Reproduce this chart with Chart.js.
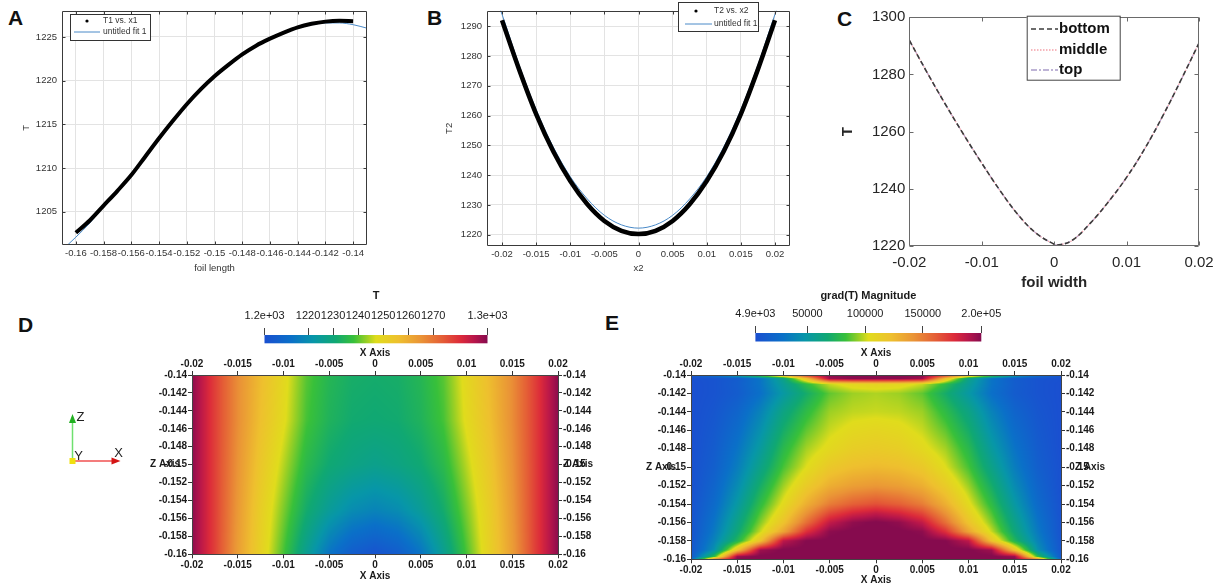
<!DOCTYPE html>
<html><head><meta charset="utf-8">
<script src="https://cdn.jsdelivr.net/npm/chart.js@4.4.1/dist/chart.umd.min.js"></script>
<style>
html,body{margin:0;padding:0;background:#fff;}
body{width:1225px;height:586px;position:relative;overflow:hidden;font-family:"Liberation Sans",Arial,sans-serif;}
.box{position:absolute;}
.letter{position:absolute;font:bold 21px/21px "Liberation Sans",Arial,sans-serif;color:#111;height:21px;}
</style></head><body>
<div class="letter" style="left:8px;top:7px">A</div>
<div class="letter" style="left:427px;top:7px">B</div>
<div class="letter" style="left:837px;top:8px">C</div>
<div class="letter" style="left:18px;top:314px">D</div>
<div class="letter" style="left:605px;top:312px">E</div>

<div class="box" style="left:0;top:0;width:372px;height:278px"><canvas id="cA"></canvas></div>
<div class="box" style="left:440px;top:0;width:355px;height:278px"><canvas id="cB"></canvas></div>
<div class="box" style="left:830px;top:0;width:395px;height:296px"><canvas id="cC"></canvas></div>
<div class="box" style="left:0;top:285px;width:600px;height:301px"><canvas id="cD"></canvas></div>
<div class="box" style="left:600px;top:285px;width:625px;height:301px"><canvas id="cE"></canvas></div>
<div class="box" style="left:200px;top:285px;width:350px;height:60px"><canvas id="cDbar"></canvas></div>
<div class="box" style="left:690px;top:285px;width:360px;height:60px"><canvas id="cEbar"></canvas></div>

<script>
// ---------------- Panel A : T1 vs x1 (foil length) ----------------
const a_x1 = [-0.16,-0.159,-0.158,-0.157,-0.156,-0.155,-0.154,-0.153,-0.152,-0.151,-0.15,-0.149,-0.148,-0.147,-0.146,-0.145,-0.144,-0.143,-0.142,-0.141,-0.14];
const a_T1 = [1202.6,1204.0,1205.7,1207.4,1209.2,1211.3,1213.4,1215.4,1217.3,1219.0,1220.5,1221.8,1223.0,1224.0,1224.8,1225.5,1226.1,1226.5,1226.75,1226.85,1226.8];
const a_fitX = [-0.1608,-0.16,-0.159,-0.158,-0.157,-0.156,-0.155,-0.154,-0.153,-0.152,-0.151,-0.15,-0.149,-0.148,-0.147,-0.146,-0.145,-0.144,-0.143,-0.142,-0.141,-0.14,-0.139];
const a_fitT = [1200.9,1202.1,1203.7,1205.6,1207.4,1209.3,1211.4,1213.5,1215.5,1217.4,1219.1,1220.6,1221.9,1223.0,1224.0,1224.8,1225.5,1226.0,1226.4,1226.6,1226.6,1226.4,1226.0];
const a_xTicks = [-0.16,-0.158,-0.156,-0.154,-0.152,-0.15,-0.148,-0.146,-0.144,-0.142,-0.14];
const a_yTicks = [1205,1210,1215,1220,1225];

// ---------------- Panel B : T2 vs x2 ----------------
const b_x2 = [-0.02,-0.0175,-0.015,-0.0125,-0.01,-0.0075,-0.005,-0.0025,0,0.0025,0.005,0.0075,0.01,0.0125,0.015,0.0175,0.02];
const b_T2 = [1292,1275.5,1260.5,1248,1238,1230.2,1224.6,1221.3,1220.2,1221.3,1224.6,1230.2,1238,1248,1260.5,1275.5,1292];
const b_fitX = [-0.0222,-0.02,-0.0175,-0.015,-0.0125,-0.01,-0.0075,-0.005,-0.0025,0,0.0025,0.005,0.0075,0.01,0.0125,0.015,0.0175,0.02,0.0222];
const b_fitT = [1307.5,1294,1277,1262,1249.5,1239.5,1232,1226.5,1223.3,1222.2,1223.3,1226.5,1232,1239.5,1249.5,1262,1277,1294,1307.5];
const b_xTicks = [-0.02,-0.015,-0.01,-0.005,0,0.005,0.01,0.015,0.02];
const b_yTicks = [1220,1230,1240,1250,1260,1270,1280,1290];

// ---------------- Panel C : T vs foil width ----------------
const c_x = [-0.02,-0.0175,-0.015,-0.0125,-0.01,-0.0075,-0.005,-0.0025,0,0.0005,0.0025,0.005,0.0075,0.01,0.0125,0.015,0.0175,0.02];
const c_bottom = [1292,1280.5,1269.5,1259,1249,1239.5,1231,1224.5,1220.6,1220.3,1222,1228,1235.5,1244,1254,1265.5,1278,1291];
const c_middle = [1292,1280.5,1269.5,1259,1249,1239.5,1231,1224.5,1220.6,1220.3,1222,1228,1235.5,1244,1254,1265.5,1278,1291];
const c_top    = [1292,1280.5,1269.5,1259,1249,1239.5,1231,1224.5,1220.6,1220.3,1222,1228,1235.5,1244,1254,1265.5,1278,1291];
const c_xTicks = [-0.02,-0.01,0,0.01,0.02];
const c_yTicks = [1220,1240,1260,1280,1300];

// ---------------- Panels D/E : field maps ----------------
const field_x = [-0.02,-0.0175,-0.015,-0.0125,-0.01,-0.0075,-0.005,-0.0025,0,0.0025,0.005,0.0075,0.01,0.0125,0.015,0.0175,0.02];
const fieldXTicks = [-0.02,-0.015,-0.01,-0.005,0,0.005,0.01,0.015,0.02];
const fieldZTicks = [-0.16,-0.158,-0.156,-0.154,-0.152,-0.15,-0.148,-0.146,-0.144,-0.142,-0.14];

// D : temperature T
const d_z = [-0.14,-0.145,-0.15,-0.155,-0.16];
const d_T = [
  [1291,1278,1266,1257,1249,1240,1235,1232.5,1232,1232.5,1235,1240,1249,1257,1266,1278,1291],
  [1291,1278,1266,1256,1248,1239,1234,1231.5,1231,1231.5,1234,1239,1248,1256,1266,1278,1291],
  [1291,1278,1265,1254,1245,1236,1231,1228.5,1227,1228.5,1231,1236,1245,1254,1265,1278,1291],
  [1291,1278,1264,1252,1242,1232,1225,1220,1218,1220,1225,1232,1242,1252,1264,1278,1291],
  [1291,1278,1263,1251,1239,1226,1214,1207,1204,1207,1214,1226,1239,1251,1263,1278,1291]
];
const d_cbTicks = [1202.6,1220,1230,1240,1250,1260,1270,1291.7];
const d_cbLabels = ['1.2e+03','1220','1230','1240','1250','1260','1270','1.3e+03'];

// E : grad(T) magnitude
const e_z = [-0.14,-0.1404,-0.141,-0.142,-0.144,-0.146,-0.148,-0.15,-0.152,-0.154,-0.155,-0.156,-0.157,-0.158,-0.159,-0.1597,-0.16];
const e_grad = [
  [12000,30000,60000,100000,140000,180000,200000,200000,200000,200000,200000,180000,140000,100000,60000,30000,12000],
  [6000,8000,14000,30000,60000,120000,195000,200000,200000,200000,195000,120000,60000,30000,14000,8000,6000],
  [5000,8000,15000,30000,55000,80000,100000,108000,110000,108000,100000,80000,55000,30000,15000,8000,5000],
  [5000,8000,14000,28000,50000,70000,88000,95000,97000,95000,88000,70000,50000,28000,14000,8000,5000],
  [5000,10000,20000,38000,62000,80000,95000,99000,100000,99000,95000,80000,62000,38000,20000,10000,5000],
  [5000,12000,25000,45000,70000,88000,100000,106000,108000,106000,100000,88000,70000,45000,25000,12000,5000],
  [5000,14000,30000,52000,78000,96000,106000,113000,115000,113000,106000,96000,78000,52000,30000,14000,5000],
  [6000,16000,35000,60000,85000,103000,117000,123000,125000,123000,117000,103000,85000,60000,35000,16000,6000],
  [6000,20000,42000,70000,95000,115000,130000,137000,140000,137000,130000,115000,95000,70000,42000,20000,6000],
  [7000,24000,50000,80000,105000,130000,150000,160000,165000,160000,150000,130000,105000,80000,50000,24000,7000],
  [7000,27000,55000,86000,112000,142000,168000,180000,186000,180000,168000,142000,112000,86000,55000,27000,7000],
  [8000,30000,60000,92000,120000,155000,186000,198000,202000,198000,186000,155000,120000,92000,60000,30000,8000],
  [8000,33000,65000,100000,135000,176000,199000,202000,202000,202000,199000,176000,135000,100000,65000,33000,8000],
  [9000,38000,75000,120000,188000,201000,202000,202000,202000,202000,202000,201000,188000,120000,75000,38000,9000],
  [10000,45000,120000,195000,202000,202000,202000,202000,202000,202000,202000,202000,202000,195000,120000,45000,10000],
  [12000,80000,196000,202000,202000,202000,202000,202000,202000,202000,202000,202000,202000,202000,196000,80000,12000],
  [20000,150000,202000,202000,202000,202000,202000,202000,202000,202000,202000,202000,202000,202000,202000,150000,20000]
];
const e_cbTicks = [4900,50000,100000,150000,200700];
const e_cbLabels = ['4.9e+03','50000','100000','150000','2.0e+05'];

// colour map (rainbow-uniform like)
const cmapPos = [0,0.12,0.22,0.32,0.40,0.46,0.50,0.60,0.70,0.80,0.88,0.94,1.0];
const cmapHex = ['#1a4fd0','#0a70c8','#0796a8','#10a872','#38c03a','#9cd024','#e0dc1c','#eec02e','#ea9436','#e45c36','#dc2a3a','#b8164a','#860b4e'];

// ===================================================================
const FONT = '"Liberation Sans", Arial, sans-serif';
Chart.defaults.font.family = FONT;
Chart.defaults.animation = false;

const cmapRGB = cmapHex.map(h => [parseInt(h.substr(1,2),16), parseInt(h.substr(3,2),16), parseInt(h.substr(5,2),16)]);
function cmap(t){
  if (t <= 0) return cmapRGB[0];
  if (t >= 1) return cmapRGB[cmapRGB.length-1];
  for (let i=0;i<cmapPos.length-1;i++){
    if (t <= cmapPos[i+1]){
      const f = (t-cmapPos[i])/(cmapPos[i+1]-cmapPos[i]);
      const a=cmapRGB[i], b=cmapRGB[i+1];
      return [a[0]+(b[0]-a[0])*f, a[1]+(b[1]-a[1])*f, a[2]+(b[2]-a[2])*f];
    }
  }
  return cmapRGB[cmapRGB.length-1];
}
function seg(arr, v){
  const n = arr.length, asc = arr[n-1] > arr[0];
  for (let i=0;i<n-1;i++){
    const a=arr[i], b=arr[i+1];
    if (asc ? v <= b : v >= b){ const f=(v-a)/(b-a); return [i, Math.max(0,Math.min(1,f))]; }
  }
  return [n-2, 1];
}
const pts = (xs, ys) => xs.map((x,i) => ({x:x, y:ys[i]}));

function axis(o){
  const horiz = (o.pos==='top'||o.pos==='bottom');
  return {
    type:'linear', position:o.pos, min:o.min, max:o.max, display:true,
    afterBuildTicks: s => { s.ticks = o.ticks.map(v => ({value:v})); },
    afterFit: s => { if (horiz) s.height = o.size; else s.width = o.size; },
    ticks:{autoSkip:false, maxRotation:0, minRotation:0, color:o.tickColor||'#333', font:o.tickFont||{size:9.5}, padding:o.tickPad==null?3:o.tickPad,
      callback:(v,i) => o.labels ? o.labels[i] : String(v)},
    grid:{display: o.grid!==false, color:o.gridColor||'#e3e3e3', drawOnChartArea: !!o.gridOnArea, drawTicks: !!o.tickLen, tickLength:o.tickLen||0, tickColor:o.tickMarkColor||'#333'},
    border:{display: !!o.border, color:o.borderColor||'#444', width:1},
    title: o.title ? {display:true, text:o.title, color:o.titleColor||'#333', font:o.titleFont||{size:9.5}, padding:o.titlePad||{top:4,bottom:4}} : {display:false}
  };
}

function framePlugin(o){
  return {id:'frame', afterDatasetsDraw(chart){
    const {ctx, chartArea:ca} = chart; const xs=chart.scales.x, ys=chart.scales.y;
    const L=Math.round(ca.left)+0.5, R=Math.round(ca.right)-0.5, T=Math.round(ca.top)+0.5, B=Math.round(ca.bottom)-0.5;
    ctx.save(); ctx.strokeStyle=o.color; ctx.lineWidth=1; ctx.beginPath();
    ctx.rect(L, T, R-L, B-T);
    for (const t of xs.ticks){ const p=Math.round(xs.getPixelForValue(t.value))+0.5; ctx.moveTo(p,B); ctx.lineTo(p,B-o.len); ctx.moveTo(p,T); ctx.lineTo(p,T+o.len); }
    for (const t of ys.ticks){ const p=Math.round(ys.getPixelForValue(t.value))+0.5; ctx.moveTo(L,p); ctx.lineTo(L+o.len,p); ctx.moveTo(R,p); ctx.lineTo(R-o.len,p); }
    ctx.stroke(); ctx.restore();
  }};
}
function legendPlugin(o){
  return {id:'boxLegend', afterDraw(chart){
    const ctx = chart.ctx; ctx.save();
    ctx.fillStyle='#fff'; ctx.fillRect(o.x,o.y,o.w,o.h);
    ctx.strokeStyle=o.frame; ctx.lineWidth=1; ctx.strokeRect(o.x+0.5,o.y+0.5,o.w,o.h);
    chart.data.datasets.forEach((ds,i) => {
      const y = o.rows[i];
      if (ds.marker === 'dot'){ ctx.fillStyle=ds.borderColor; ctx.beginPath(); ctx.arc(o.dotX,y,o.dotR,0,Math.PI*2); ctx.fill(); }
      else { ctx.strokeStyle=ds.borderColor; ctx.lineWidth=o.lineW||ds.borderWidth; ctx.setLineDash(ds.borderDash||[]); ctx.beginPath(); ctx.moveTo(o.lx0,y); ctx.lineTo(o.lx1,y); ctx.stroke(); ctx.setLineDash([]); }
      ctx.fillStyle=o.textColor; ctx.font=o.font; ctx.textBaseline='middle'; ctx.textAlign='left';
      ctx.fillText(ds.label, o.tx, y);
    });
    ctx.restore();
  }};
}
function heatPlugin(cfg){
  return {id:'heat', beforeDraw(chart){
    const ca=chart.chartArea, xS=chart.scales.x, yS=chart.scales.y;
    const x0=Math.floor(ca.left), y0=Math.floor(ca.top), w=Math.ceil(ca.right)-x0, h=Math.ceil(ca.bottom)-y0;
    const off=document.createElement('canvas'); off.width=w; off.height=h;
    const octx=off.getContext('2d'); const img=octx.createImageData(w,h);
    const cols=[]; for (let px=0;px<w;px++) cols.push(seg(cfg.xs, xS.getValueForPixel(x0+px+0.5)));
    for (let py=0;py<h;py++){
      const [j,fz] = seg(cfg.zs, yS.getValueForPixel(y0+py+0.5));
      const r0=cfg.rows[j], r1=cfg.rows[j+1];
      for (let px=0;px<w;px++){
        const [i,fx] = cols[px];
        const a=r0[i]+(r0[i+1]-r0[i])*fx, b=r1[i]+(r1[i+1]-r1[i])*fx;
        const v=a+(b-a)*fz; const c=cmap((v-cfg.min)/(cfg.max-cfg.min));
        const k=(py*w+px)*4; img.data[k]=c[0]; img.data[k+1]=c[1]; img.data[k+2]=c[2]; img.data[k+3]=255;
      }
    }
    octx.putImageData(img,0,0); chart.ctx.drawImage(off,x0,y0);
  }};
}
function zTitlePlugin(dl, dr){
  return {id:'ztitle', afterDraw(chart){
    const ctx=chart.ctx, ca=chart.chartArea, yS=chart.scales.y; const y=yS.getPixelForValue(-0.15);
    ctx.save(); ctx.fillStyle='#1a1a1a'; ctx.font='bold 10px '+FONT; ctx.textAlign='center'; ctx.textBaseline='middle';
    ctx.fillText('Z Axis', ca.left+dl, y); ctx.fillText('Z Axis', ca.right+dr, y); ctx.restore();
  }};
}
const triadPlugin = {id:'triad', afterDraw(chart){
  const ctx=chart.ctx; const ox=72.5, oy=176;
  ctx.save();
  ctx.lineWidth=1.5;
  ctx.strokeStyle='#6fe06f'; ctx.beginPath(); ctx.moveTo(ox,oy); ctx.lineTo(ox,oy-40); ctx.stroke();
  ctx.fillStyle='#22b022'; ctx.beginPath(); ctx.moveTo(ox,oy-47); ctx.lineTo(ox-3.5,oy-38); ctx.lineTo(ox+3.5,oy-38); ctx.closePath(); ctx.fill();
  ctx.strokeStyle='#f05050'; ctx.beginPath(); ctx.moveTo(ox,oy); ctx.lineTo(ox+40,oy); ctx.stroke();
  ctx.fillStyle='#d41414'; ctx.beginPath(); ctx.moveTo(ox+48,oy); ctx.lineTo(ox+39,oy-3.5); ctx.lineTo(ox+39,oy+3.5); ctx.closePath(); ctx.fill();
  ctx.fillStyle='#f0e010'; ctx.fillRect(ox-3,oy-3,6,6);
  ctx.fillStyle='#222'; ctx.font='13px '+FONT; ctx.textAlign='center'; ctx.textBaseline='middle';
  ctx.fillText('Z', ox+8, oy-44); ctx.fillText('Y', ox+6, oy-5); ctx.fillText('X', ox+46, oy-8);
  ctx.restore();
}};
function cbarPlugin(){
  return {id:'cbar', beforeDraw(chart){
    const ctx=chart.ctx, ca=chart.chartArea;
    const g=ctx.createLinearGradient(ca.left,0,ca.right,0);
    cmapPos.forEach((p,i) => g.addColorStop(p, cmapHex[i]));
    ctx.save(); ctx.fillStyle=g; ctx.fillRect(ca.left,ca.top,ca.right-ca.left,ca.bottom-ca.top); ctx.restore();
  }};
}
function baseOptions(padding, scales){
  return {animation:false, responsive:true, maintainAspectRatio:false, events:[],
    layout:{padding:padding}, plugins:{legend:{display:false}, tooltip:{enabled:false}}, scales:scales};
}

// ---------------- A ----------------
new Chart(document.getElementById('cA'), {
  type:'line',
  data:{datasets:[
    {label:'T1 vs. x1', marker:'dot', data:pts(a_x1,a_T1), borderColor:'#000', borderWidth:4, pointRadius:0, cubicInterpolationMode:'monotone'},
    {label:'untitled fit 1', marker:'line', data:pts(a_fitX,a_fitT), borderColor:'#4a8ac8', borderWidth:1, pointRadius:0, cubicInterpolationMode:'monotone'}
  ]},
  options: baseOptions({left:17,right:5,top:4.7,bottom:0}, {
    x: axis({pos:'bottom', min:-0.161, max:-0.139, ticks:a_xTicks, size:33, gridOnArea:true, title:'foil length', tickPad:3}),
    y: axis({pos:'left', min:1201.2, max:1228, ticks:a_yTicks, size:45, gridOnArea:true, title:'T', tickPad:5})
  }),
  plugins:[framePlugin({color:'#3a3a3a', len:3}), legendPlugin({x:70,y:14,w:80,h:26,frame:'#333',rows:[21,32],dotX:87,dotR:1.6,lx0:74,lx1:100,tx:103,font:'8.5px '+FONT,textColor:'#333'})]
});

// ---------------- B ----------------
new Chart(document.getElementById('cB'), {
  type:'line',
  data:{datasets:[
    {label:'T2 vs. x2', marker:'dot', data:pts(b_x2,b_T2), borderColor:'#000', borderWidth:4.5, pointRadius:0, cubicInterpolationMode:'monotone'},
    {label:'untitled fit 1', marker:'line', data:pts(b_fitX,b_fitT), borderColor:'#4a8ac8', borderWidth:1, pointRadius:0, cubicInterpolationMode:'monotone'}
  ]},
  options: baseOptions({left:0,right:5,top:4.7,bottom:0}, {
    x: axis({pos:'bottom', min:-0.0222, max:0.0222, ticks:b_xTicks, size:32, gridOnArea:true, title:'x2', tickPad:3}),
    y: axis({pos:'left', min:1216.2, max:1295.2, ticks:b_yTicks, size:47, gridOnArea:true, title:'T2', tickPad:5})
  }),
  plugins:[framePlugin({color:'#3a3a3a', len:3}), legendPlugin({x:238,y:2,w:80,h:29,frame:'#333',rows:[11,24],dotX:256,dotR:1.6,lx0:245,lx1:272,tx:274,font:'8.5px '+FONT,textColor:'#333'})]
});

// ---------------- C ----------------
new Chart(document.getElementById('cC'), {
  type:'line',
  data:{datasets:[
    {label:'bottom', marker:'line', data:pts(c_x,c_bottom), borderColor:'#3c3c3c', borderWidth:1.6, borderDash:[5,3], pointRadius:0, tension:0.4},
    {label:'middle', marker:'line', data:pts(c_x,c_middle), borderColor:'#f4a0a8', borderWidth:1.2, borderDash:[1.5,1.5], pointRadius:0, tension:0.4},
    {label:'top', marker:'line', data:pts(c_x,c_top), borderColor:'#a99cc9', borderWidth:1.2, borderDash:[6,2,2,2], pointRadius:0, tension:0.4}
  ]},
  options: baseOptions({left:5,right:26,top:17.3,bottom:0}, {
    x: axis({pos:'bottom', min:-0.02, max:0.02, ticks:c_xTicks, size:50, grid:false, title:'foil width', tickPad:8, tickColor:'#262626', tickFont:{size:15}, titleColor:'#262626', titleFont:{size:15,weight:'bold'}}),
    y: axis({pos:'left', min:1220, max:1300, ticks:c_yTicks, size:74.3, grid:false, title:'T', tickPad:4, tickColor:'#262626', tickFont:{size:15}, titleColor:'#262626', titleFont:{size:15,weight:'bold'}})
  }),
  plugins:[framePlugin({color:'#6a6a6a', len:4}), legendPlugin({x:196.7,y:15.7,w:93,h:64,frame:'#444',rows:[29,50,70],lx0:201,lx1:228,tx:229,lineW:1.5,font:'bold 15px '+FONT,textColor:'#111'})]
});

// ---------------- D ----------------
function pvAxis(pos, min, max, ticks, size, title, titlePad){
  return axis({pos:pos, min:min, max:max, ticks:ticks, size:size, gridOnArea:false, tickLen:4, gridColor:'#333', tickMarkColor:'#333', border:true, borderColor:'#444',
    tickColor:'#1a1a1a', tickFont:{size:10, weight:'bold'}, tickPad:1, title:title, titleColor:'#1a1a1a', titleFont:{size:10, weight:'bold'}, titlePad:titlePad});
}
new Chart(document.getElementById('cD'), {
  type:'scatter', data:{datasets:[]},
  options: baseOptions({left:130,right:0,top:60,bottom:0}, {
    x: pvAxis('bottom', -0.02, 0.02, fieldXTicks, 31.7, 'X Axis', {top:0,bottom:4}),
    x2: pvAxis('top', -0.02, 0.02, fieldXTicks, 30, 'X Axis', {top:2,bottom:0}),
    y: pvAxis('left', -0.16, -0.14, fieldZTicks, 62, null),
    y2: pvAxis('right', -0.16, -0.14, fieldZTicks, 42, null)
  }),
  plugins:[heatPlugin({xs:field_x, zs:d_z, rows:d_T, min:d_cbTicks[0], max:d_cbTicks[d_cbTicks.length-1]}), zTitlePlugin(-27,20), triadPlugin]
});

// ---------------- E ----------------
new Chart(document.getElementById('cE'), {
  type:'scatter', data:{datasets:[]},
  options: baseOptions({left:29,right:122,top:60,bottom:0}, {
    x: pvAxis('bottom', -0.02, 0.02, fieldXTicks, 26.7, 'X Axis', {top:0,bottom:0}),
    x2: pvAxis('top', -0.02, 0.02, fieldXTicks, 30, 'X Axis', {top:2,bottom:0}),
    y: pvAxis('left', -0.16, -0.14, fieldZTicks, 62, null),
    y2: pvAxis('right', -0.16, -0.14, fieldZTicks, 42, null)
  }),
  plugins:[heatPlugin({xs:field_x, zs:e_z, rows:e_grad, min:e_cbTicks[0], max:e_cbTicks[e_cbTicks.length-1]}), zTitlePlugin(-30,29)]
});

// ---------------- colour bars ----------------
function cbAxis(min, max, ticks, labels, size, title){
  return axis({pos:'top', min:min, max:max, ticks:ticks, labels:labels, size:size, gridOnArea:false, tickLen:7, gridColor:'#444', tickMarkColor:'#444', border:false,
    tickColor:'#1a1a1a', tickFont:{size:11}, tickPad:5, title:title, titleColor:'#1a1a1a', titleFont:{size:11, weight:'bold'}, titlePad:{top:4,bottom:0}});
}
new Chart(document.getElementById('cDbar'), {
  type:'scatter', data:{datasets:[]},
  options: baseOptions({left:64.5,right:62.5,top:0,bottom:1.7}, {
    x: cbAxis(d_cbTicks[0], d_cbTicks[d_cbTicks.length-1], d_cbTicks, d_cbLabels, 50, 'T'),
    y: {display:false, min:0, max:1}
  }),
  plugins:[cbarPlugin()]
});
new Chart(document.getElementById('cEbar'), {
  type:'scatter', data:{datasets:[]},
  options: baseOptions({left:65.4,right:68.7,top:0,bottom:3.5}, {
    x: cbAxis(e_cbTicks[0], e_cbTicks[e_cbTicks.length-1], e_cbTicks, e_cbLabels, 48, 'grad(T) Magnitude'),
    y: {display:false, min:0, max:1}
  }),
  plugins:[cbarPlugin()]
});
</script>
</body></html>
